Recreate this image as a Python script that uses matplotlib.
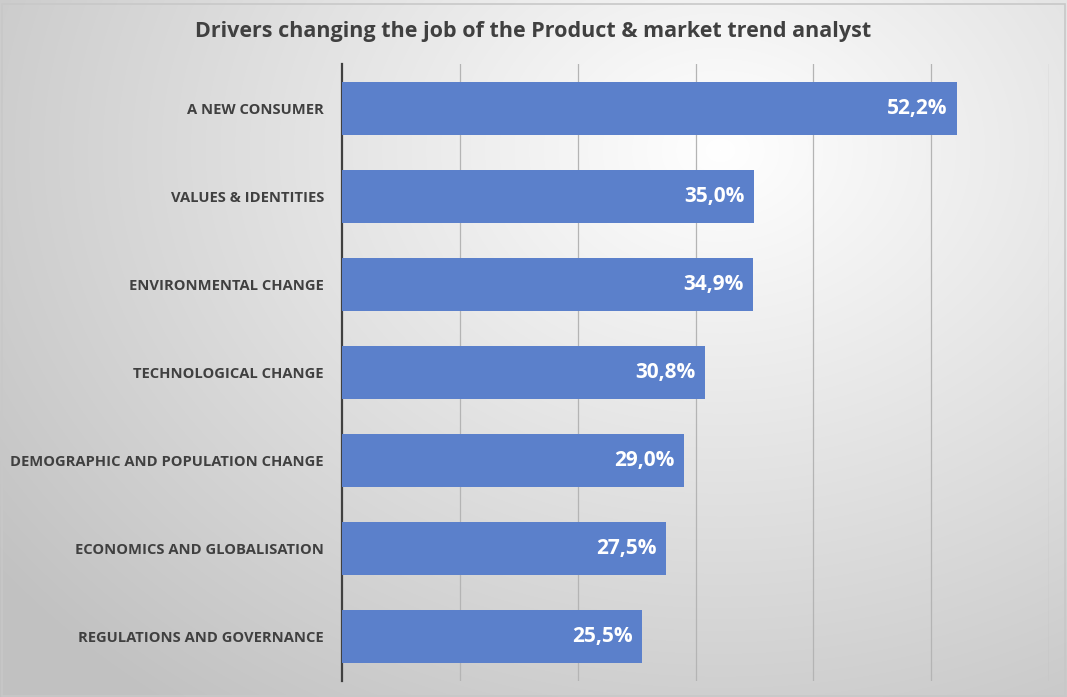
import matplotlib.pyplot as plt
import numpy as np
from matplotlib.patches import Rectangle

# Données du graphique
categories = ['A NEW CONSUMER', 'VALUES & IDENTITIES', 'ENVIRONMENTAL CHANGE',
              'TECHNOLOGICAL CHANGE', 'DEMOGRAPHIC AND POPULATION CHANGE',
              'ECONOMICS AND GLOBALISATION', 'REGULATIONS AND GOVERNANCE']
valeurs = [52.2, 35.0, 34.9, 30.8, 29.0, 27.5, 25.5]
etiquettes = ['52,2%', '35,0%', '34,9%', '30,8%', '29,0%', '27,5%', '25,5%']

plt.rcParams['font.family'] = ['Open Sans', 'DejaVu Sans']

fig = plt.figure(figsize=(10.67, 6.97), dpi=100)

# Fond en dégradé radial
bg = fig.add_axes([0, 0, 1, 1], zorder=-10)
yy, xx = np.mgrid[0:697, 0:1067]
d = np.sqrt(((xx - 720) / 900.0) ** 2 + ((yy - 150) / 700.0) ** 2)
grey = np.clip(1.0 - 0.24 * d, 0.76, 1.0)
bg.imshow(np.dstack([grey, grey, grey]), extent=[0, 1, 0, 1], aspect='auto', origin='upper')
bg.axis('off')
bg.add_patch(Rectangle((0.002, 0.002), 0.996, 0.992, fill=False, edgecolor='#c8c8c8', lw=1.2,
                       transform=bg.transAxes))

ax = fig.add_axes([342 / 1067, (697 - 681) / 697, (1049 - 342) / 1067, (681 - 64) / 697])
ax.patch.set_alpha(0)

y = np.arange(len(categories))
ax.barh(y, valeurs, height=0.6, color='#5b80cb', zorder=3)
for yi, v, lab in zip(y, valeurs, etiquettes):
    ax.text(v - 0.8, yi, lab, ha='right', va='center', color='white',
            fontsize=15, fontweight='bold', zorder=4)

ax.set_xlim(0, 60)
ax.set_ylim(len(categories) - 0.5, -0.5)
ax.set_xticks(np.arange(10, 61, 10))
ax.set_xticklabels([])
ax.tick_params(axis='x', length=0)
ax.grid(axis='x', color='#b4b4b4', lw=0.9, zorder=0)
ax.set_yticks(y)
ax.set_yticklabels(categories, fontsize=10.6, fontweight='bold', color='#404040')
ax.tick_params(axis='y', length=0, pad=13)
for s in ['top', 'right', 'bottom']:
    ax.spines[s].set_visible(False)
ax.spines['left'].set_color('#404040')
ax.spines['left'].set_linewidth(1.6)

fig.text(533 / 1067, 1 - 31 / 697, 'Drivers changing the job of the Product & market trend analyst',
         ha='center', va='center', fontsize=15.5, fontweight='bold', color='#404040')

fig.savefig('out.png', dpi=100)
